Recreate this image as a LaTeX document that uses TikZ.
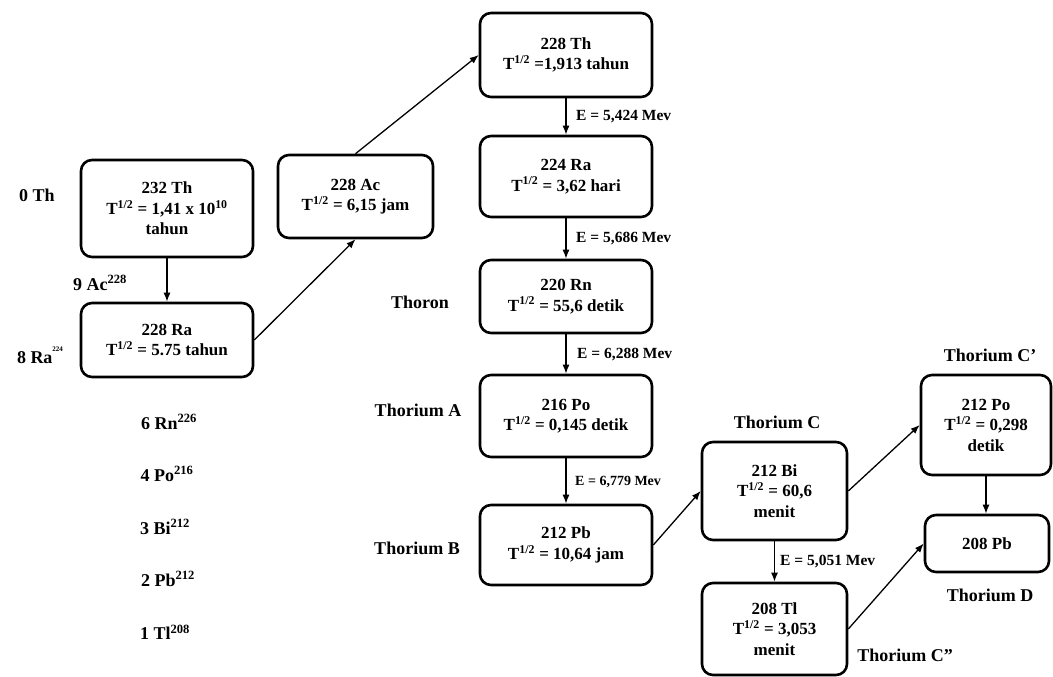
\documentclass[tikz,border=0pt]{standalone}
\usepackage{fontspec}
\setmainfont{Liberation Serif}
\usetikzlibrary{arrows.meta}
\begin{document}
\begin{tikzpicture}[x=1pt,y=-1pt,
  box/.style={draw, line width=2.6pt, rounded corners=11pt, align=center, inner sep=0pt,
    font=\fontsize{17}{20.5}\selectfont\bfseries},
  arr/.style={line width=1.3pt, -{Latex[length=9pt,width=7pt]}},
  lab/.style={font=\fontsize{18}{21}\selectfont\bfseries, inner sep=0pt},
  elab/.style={font=\fontsize{15.5}{18}\selectfont\bfseries, inner sep=0pt, anchor=west},
]
\useasboundingbox (0,0) rectangle (1053,677);
% boxes
\node[box, minimum width=172pt, minimum height=97pt] (th232) at (167,208.5) {232 Th\\T\textsuperscript{1/2} = 1,41 x 10\textsuperscript{10}\\tahun};
\node[box, minimum width=172pt, minimum height=74pt] (ra228) at (167,340) {228 Ra\\T\textsuperscript{1/2} = 5.75 tahun};
\node[box, minimum width=155pt, minimum height=83pt] (ac228) at (355.5,196.5) {228 Ac\\T\textsuperscript{1/2} = 6,15 jam};
\node[box, minimum width=172pt, minimum height=84pt] (th228) at (566,55) {228 Th\\T\textsuperscript{1/2} =1,913 tahun};
\node[box, minimum width=172pt, minimum height=81pt] (ra224) at (566,176.5) {224 Ra\\T\textsuperscript{1/2} = 3,62 hari};
\node[box, minimum width=172pt, minimum height=73pt] (rn220) at (566,296.5) {220 Rn\\T\textsuperscript{1/2} = 55,6 detik};
\node[box, minimum width=172pt, minimum height=82pt] (po216) at (566,416) {216 Po\\T\textsuperscript{1/2} = 0,145 detik};
\node[box, minimum width=172pt, minimum height=80pt] (pb212) at (566,545) {212 Pb\\T\textsuperscript{1/2} = 10,64 jam};
\node[box, minimum width=145pt, minimum height=98pt] (bi212) at (774.5,491) {212 Bi\\T\textsuperscript{1/2} = 60,6\\menit};
\node[box, minimum width=145pt, minimum height=92pt] (tl208) at (774.5,629) {208 Tl\\T\textsuperscript{1/2} = 3,053\\menit};
\node[box, minimum width=130pt, minimum height=100pt] (po212) at (986,425) {212 Po\\T\textsuperscript{1/2} = 0,298\\detik};
\node[box, minimum width=124pt, minimum height=57pt] (pb208) at (987,543.5) {208 Pb};
% arrows
\draw[arr] (th232) -- (ra228);
\draw[arr] (ra228.east) -- (ac228.south);
\draw[arr] (ac228.north) -- (th228.west);
\draw[arr] (th228) -- (ra224);
\draw[arr] (ra224) -- (rn220);
\draw[arr] (rn220) -- (po216);
\draw[arr] (po216) -- (pb212);
\draw[arr] (pb212.east) -- (bi212.west);
\draw[arr] (bi212.east) -- (po212.west);
\draw[arr] (bi212) -- (tl208);
\draw[arr] (po212.south) -- (po212.south |- pb208.north);
\draw[arr] (tl208.east) -- (pb208.west);
% energy labels
\node[elab] (e1) at (576,117) {E = 5,424 Mev};
\node[elab] (e2) at (576,239) {E = 5,686 Mev};
\node[elab] (e3) at (577,355) {E = 6,288 Mev};
\node[elab, font=\fontsize{14}{16}\selectfont\bfseries] (e4) at (575,482) {E = 6,779 Mev};
\node[elab] (e5) at (780,562) {E = 5,051 Mev};
% side labels
\node[lab] (l0) at (37,195) {0 Th};
\node[lab] (l9) at (100,283) {9 Ac\textsuperscript{228}};
\node[lab] (l8) at (40,355) {8 Ra\raisebox{1.4ex}{\fontsize{7}{8}\selectfont 224}};
\node[lab] (l6) at (169,422) {6 Rn\textsuperscript{226}};
\node[lab] (l4) at (167,474) {4 Po\textsuperscript{216}};
\node[lab] (l3) at (165,527) {3 Bi\textsuperscript{212}};
\node[lab] (l2) at (168,579) {2 Pb\textsuperscript{212}};
\node[lab] (l1) at (165,632) {1 Tl\textsuperscript{208}};
\node[lab] (thoron) at (420,302) {Thoron};
\node[lab] (tha) at (418,410) {Thorium A};
\node[lab] (thb) at (417,548) {Thorium B};
\node[lab] (thc) at (777,422) {Thorium C};
\node[lab] (thc1) at (990,355) {Thorium C’};
\node[lab] (thd) at (990,595) {Thorium D};
\node[lab] (thc2) at (905,655) {Thorium C”};
\end{tikzpicture}
\end{document}
